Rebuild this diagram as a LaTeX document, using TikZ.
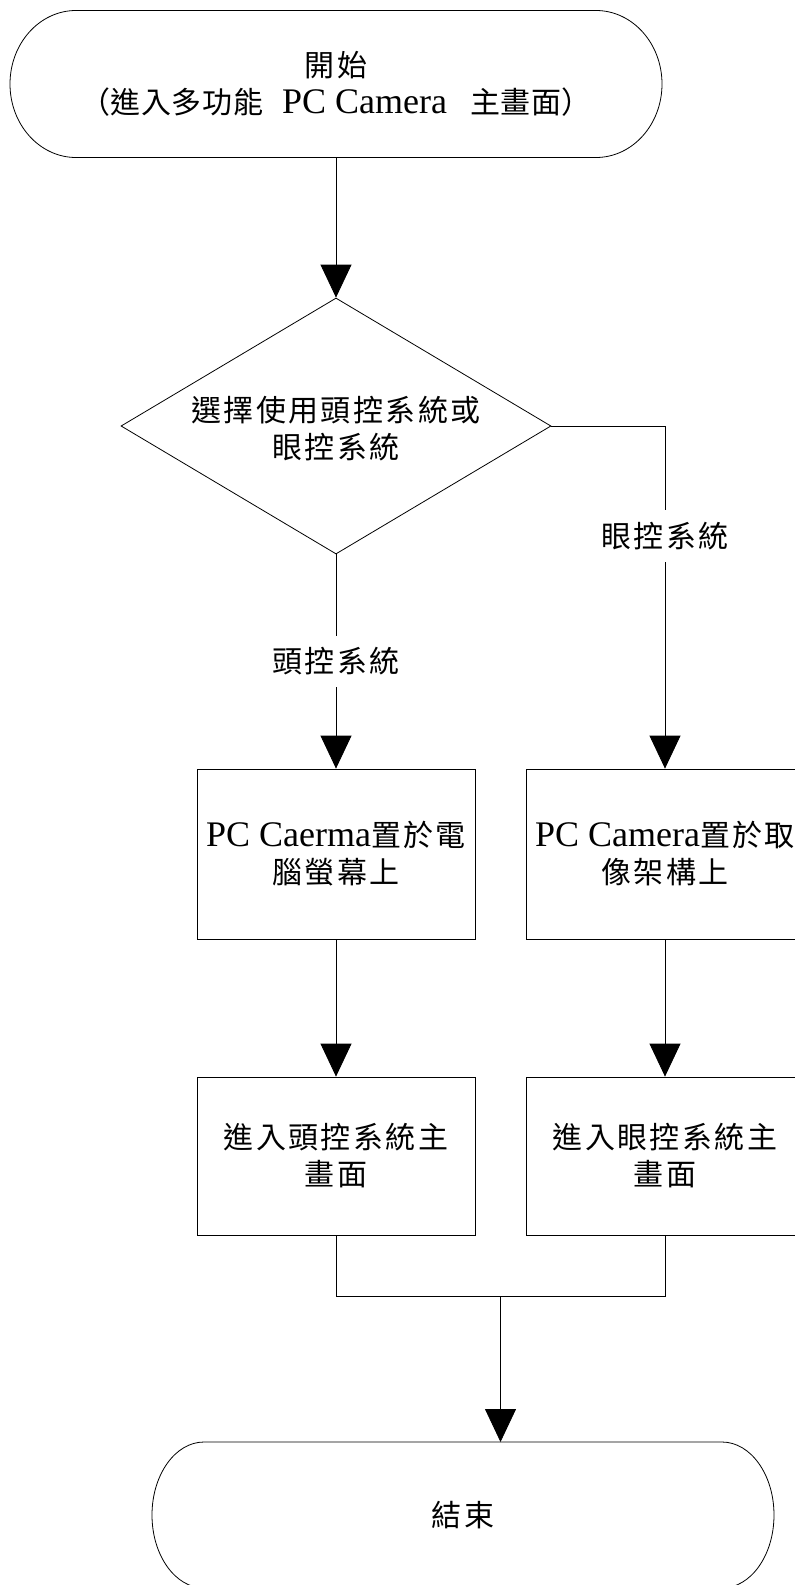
\documentclass[tikz,border=0pt]{standalone}
\usepackage{fontspec}
\setmainfont{Noto Sans CJK TC}[LetterSpace=8]
\newfontfamily\cjktight{Noto Sans CJK TC}[LetterSpace=2]
\newfontfamily\lat{Liberation Serif}
\usetikzlibrary{arrows.meta,shapes.geometric}
\newcommand{\pcfont}{\lat\fontsize{36}{37}\selectfont}
\begin{document}
\begin{tikzpicture}[x=1pt,y=-1pt,
  line width=0.8pt,
  txt/.style={font=\fontsize{30}{37}\selectfont, align=center},
  boxnode/.style={draw, rectangle, minimum width=278pt, inner sep=0pt, txt},
  lbl/.style={fill=white, inner xsep=2pt, inner ysep=12pt, txt},
  arr/.style={-{Triangle[width=31pt,length=33pt]}},
  termnode/.style={rectangle, inner sep=0pt, outer sep=0pt, txt}
]
\fill[white] (0,0) rectangle (795,1585);
\useasboundingbox (0,0) rectangle (795,1585);

% start terminal
\node[termnode, minimum width=652pt, minimum height=147pt] (start) at (336,84)
  {開始\\{\cjktight\fontsize{30}{37}\selectfont（進入多功能\hspace{19pt}{\pcfont PC Camera}\hspace{23pt}主畫面）}};
\draw ([xshift=66pt]start.north west) -- ([xshift=-66pt]start.north east)
  arc[start angle=90,end angle=-90,x radius=66pt,y radius=73.5pt]
  -- ([xshift=66pt]start.south west)
  arc[start angle=270,end angle=90,x radius=66pt,y radius=73.5pt] -- cycle;

% decision
\node[draw, diamond, minimum width=430pt, minimum height=256pt, inner sep=0pt] (dia) at (336,426) {};
\node[txt] (diatxt) at (336,429) {選擇使用頭控系統或\\眼控系統};

% boxes
\node[boxnode, minimum height=170pt] (b1) at (336,854) {{\pcfont PC Caerma}置於電\\腦螢幕上};
\node[boxnode, minimum height=170pt] (b2) at (665,854) {{\pcfont PC Camera}置於取\\像架構上};
\node[boxnode, minimum height=158pt] (b3) at (336,1156) {進入頭控系統主\\畫面};
\node[boxnode, minimum height=158pt] (b4) at (665,1156) {進入眼控系統主\\畫面};

% end terminal
\node[termnode, minimum width=622pt, minimum height=146pt] (end) at (463,1515) {結束};
\draw ([xshift=52pt]end.north west) -- ([xshift=-52pt]end.north east)
  arc[start angle=90,end angle=-90,x radius=52pt,y radius=73pt]
  -- ([xshift=52pt]end.south west)
  arc[start angle=270,end angle=90,x radius=52pt,y radius=73pt] -- cycle;

\coordinate (m) at (500.5,1296);

% connectors
\draw[arr] (start.south) -- (dia.north);
\draw[arr] (dia.south) -- node[lbl]{頭控系統} (b1.north);
\draw[arr] (dia.east) -| node[lbl, pos=0.66]{眼控系統} (b2.north);
\draw[arr] (b1.south) -- (b3.north);
\draw[arr] (b2.south) -- (b4.north);
\draw (b3.south) |- (m) -| (b4.south);
\draw[arr] (m) -- (m |- end.north);
\end{tikzpicture}
\end{document}
